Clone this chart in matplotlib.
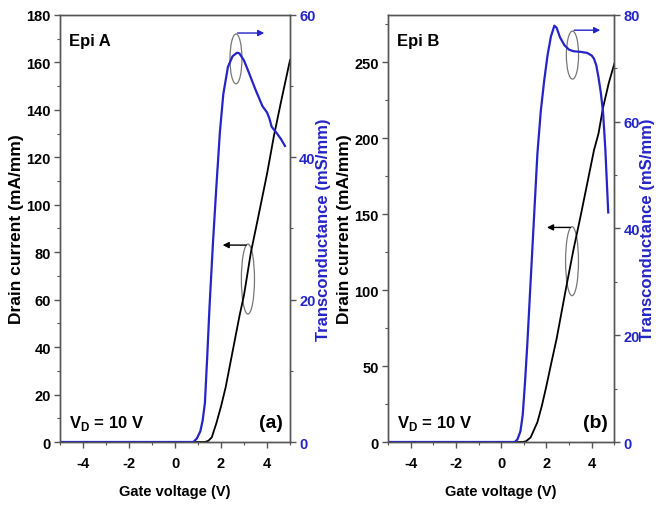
import numpy as np
import matplotlib
matplotlib.use("Agg")
import matplotlib.pyplot as plt
from matplotlib.patches import Ellipse
from matplotlib.ticker import MultipleLocator

plt.rcParams['font.family'] = ['Liberation Sans', 'DejaVu Sans']
plt.rcParams['font.weight'] = 'bold'
plt.rcParams['axes.unicode_minus'] = False
plt.rcParams['mathtext.fontset'] = 'custom'
plt.rcParams['mathtext.bf'] = 'Liberation Sans:bold'
plt.rcParams['mathtext.rm'] = 'Liberation Sans:bold'

# Epi A
vg_id_a = [-5, 1.3, 1.45, 1.6, 1.8, 2.0, 2.2, 2.4, 2.6, 2.8, 3.0, 3.3, 3.6, 4.0, 4.3, 4.6, 5.0]
id_a = [0, 0, 0.5, 2, 8, 15, 23, 33, 43, 53, 62, 80, 94, 113, 129, 143, 161]
vg_gm_a = [-5, 0.8, 0.95, 1.1, 1.2, 1.3, 1.4, 1.5, 1.65, 1.8, 1.95, 2.1, 2.3, 2.5, 2.7, 2.8,
           3.0, 3.2, 3.5, 3.8, 4.0, 4.1, 4.2, 4.4, 4.6, 4.78]
gm_a = [0, 0, 0.5, 1.5, 3, 5.5, 12, 19, 28, 36, 43.5, 48.9, 52.7, 54.2, 54.7, 54.6,
        53.6, 52, 49.5, 47.2, 46.3, 45.5, 44.3, 43.5, 42.6, 41.6]

# Epi B
vg_id_b = [-5, 0.95, 1.1, 1.3, 1.6, 1.8, 2.0, 2.2, 2.45, 2.7, 2.9, 3.2, 3.5, 3.8, 4.1, 4.3, 4.5, 4.75, 5.0]
id_b = [0, 0, 0.5, 3, 13, 24, 37, 51, 68, 88, 104, 127, 148, 170, 192, 203, 220, 236, 249]
vg_gm_b = [-5, 0.6, 0.72, 0.85, 0.95, 1.05, 1.15, 1.3, 1.45, 1.6, 1.75, 1.9, 2.05, 2.2, 2.35,
           2.45, 2.6, 2.8, 3.0, 3.2, 3.5, 3.8, 4.0, 4.1, 4.2, 4.3, 4.4, 4.5, 4.6, 4.73]
gm_b = [0, 0, 0.5, 2, 5, 11, 18, 30, 42, 54, 62, 67.7, 72.5, 76, 78,
        77.6, 75.8, 74.3, 73.5, 73.2, 73.1, 72.9, 72.4, 71.8, 70.6, 68.3, 65.5, 61.8, 55, 43]

blue = '#2424c8'
spine_c = '#555555'

fig = plt.figure(figsize=(6.56, 5.06), dpi=100)


def panel(rect, vg_id, idd, vg_gm, gm, ymax, ymaj, gmax, name, letter,
          blue_ell, black_ell):
    ax = fig.add_axes(rect)
    ax2 = ax.twinx()
    ax.plot(vg_id, idd, color='black', lw=1.3)
    ax2.plot(vg_gm, gm, color=blue, lw=1.6)
    ax.set_xlim(-5, 5)
    ax.set_ylim(0, ymax)
    ax2.set_ylim(0, gmax)
    ax.xaxis.set_major_locator(MultipleLocator(2))
    ax.xaxis.set_minor_locator(MultipleLocator(1))
    ax.yaxis.set_major_locator(MultipleLocator(ymaj))
    ax.yaxis.set_minor_locator(MultipleLocator(ymaj / 2))
    ax2.yaxis.set_major_locator(MultipleLocator(20))
    ax2.yaxis.set_minor_locator(MultipleLocator(10))
    for a in (ax, ax2):
        for s in a.spines.values():
            s.set_color(spine_c)
            s.set_linewidth(1.0)
        a.tick_params(which='major', direction='out', length=4, width=1, color=spine_c,
                      labelsize=10.5, pad=2.5)
        a.tick_params(which='minor', direction='out', length=2.5, width=0.8, color=spine_c)
    ax.tick_params(axis='x', pad=6)
    ax2.tick_params(axis='y', labelcolor=blue)
    ax.set_xlabel('Gate voltage (V)', fontsize=10.5, fontweight='bold', labelpad=10)
    ax.set_ylabel('Drain current (mA/mm)', fontsize=12.5, fontweight='bold', labelpad=2)
    ax2.set_ylabel('Transconductance (mS/mm)', fontsize=12, fontweight='bold', color=blue,
                   labelpad=0)
    ax.text(0.04, 0.94, name, transform=ax.transAxes, fontsize=12, fontweight='bold',
            ha='left', va='center')
    ax.text(0.04, 0.045, r'V$_\mathbf{D}$ = 10 V', transform=ax.transAxes, fontsize=12,
            fontweight='bold', ha='left', va='center')
    ax.text(0.97, 0.045, letter, transform=ax.transAxes, fontsize=14, fontweight='bold',
            ha='right', va='center')

    # ellipse + arrow pointing to the right axis
    cx, cy, w, h, ay, ax_end = blue_ell
    ax.add_patch(Ellipse((cx, cy), w, h, fill=False, ec='#777777', lw=0.9))
    ax.annotate('', xy=(ax_end, ay), xytext=(cx - 0.05, ay),
                arrowprops=dict(arrowstyle='-|>', color=blue, lw=1.0, mutation_scale=9))
    # ellipse + arrow pointing to the left axis
    cx, cy, w, h, ay, ax_end = black_ell
    ax.add_patch(Ellipse((cx, cy), w, h, fill=False, ec='#777777', lw=0.9))
    ax.annotate('', xy=(ax_end, ay), xytext=(cx + 0.05, ay),
                arrowprops=dict(arrowstyle='-|>', color='black', lw=1.0, mutation_scale=9))
    return ax, ax2


panel([0.0915, 0.1245, 0.3506, 0.8439], vg_id_a, id_a, vg_gm_a, gm_a, 180, 20, 60,
      'Epi A', '(a)',
      (2.65, 161.5, 0.52, 21, 172.4, 4.0),
      (3.17, 68.7, 0.57, 29.5, 83, 1.95))
panel([0.5915, 0.1245, 0.345, 0.8439], vg_id_b, id_b, vg_gm_b, gm_b, 281, 50, 80,
      'Epi B', '(b)',
      (3.15, 254.6, 0.54, 31.6, 271, 4.5),
      (3.13, 119, 0.57, 45.4, 141.2, 1.9))

fig.savefig('out.png', dpi=100)
